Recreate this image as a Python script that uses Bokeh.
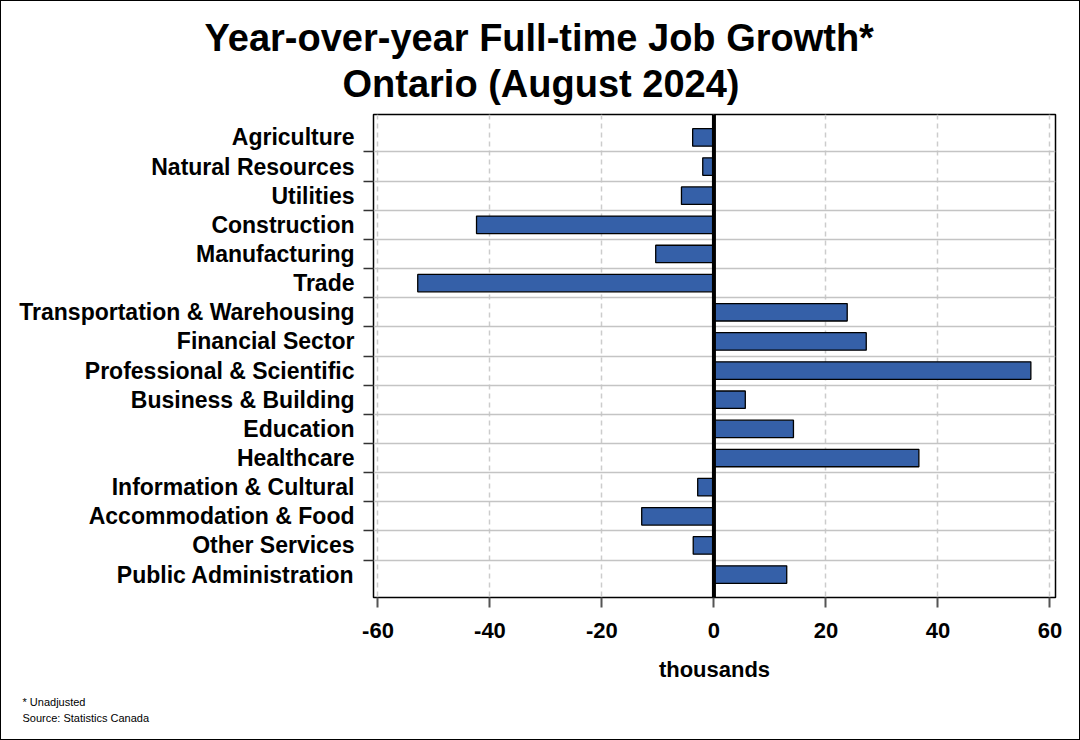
from bokeh.plotting import figure
from bokeh.models import FixedTicker, Span, Title, Range1d
from bokeh.embed import file_html
from bokeh.resources import INLINE

categories = ["Agriculture", "Natural Resources", "Utilities", "Construction",
              "Manufacturing", "Trade", "Transportation & Warehousing",
              "Financial Sector", "Professional & Scientific", "Business & Building",
              "Education", "Healthcare", "Information & Cultural",
              "Accommodation & Food", "Other Services", "Public Administration"]
values = [-3.8, -2.0, -5.8, -42.4, -10.4, -52.9, 23.8, 27.2, 56.6, 5.6,
          14.2, 36.6, -2.9, -12.9, -3.7, 13.0]
x_ticks = [-60, -40, -20, 0, 20, 40, 60]
x_tick_labels = ["-60", "-40", "-20", "0", "20", "40", "60"]

title_line1 = "Year-over-year Full-time Job Growth*"
title_line2 = "Ontario (August 2024)"
x_label = "thousands"
note1 = "* Unadjusted"
note2 = "Source: Statistics Canada"

FONT = "Liberation Sans"
n = len(categories)
idx = list(range(n))

p = figure(output_backend="svg", toolbar_location=None, title=None,
           frame_width=682, frame_height=483,
           min_border_left=372, min_border_top=113,
           min_border_right=24, min_border_bottom=142,
           x_range=Range1d(-60.8, 61.0),
           y_range=Range1d(n - 1 + 0.785, -0.785))
p.styles = {"border": "1px solid black"}
p.outline_line_color = "black"
p.outline_line_width = 1.5
p.background_fill_color = "white"
p.border_fill_color = "white"

# grids
p.xgrid.ticker = FixedTicker(ticks=x_ticks)
p.xgrid.grid_line_color = "#cccccc"
p.xgrid.grid_line_dash = "5 4"
p.xgrid.grid_line_width = 1.5
p.ygrid.ticker = FixedTicker(ticks=[i + 0.5 for i in range(n - 1)])
p.ygrid.grid_line_color = "#c4c4c4"
p.ygrid.grid_line_width = 1.5

p.hbar(y=idx, left=0, right=values, height=0.6,
       fill_color="#3560A8", line_color="black", line_width=1.3)

p.add_layout(Span(location=0, dimension="height", line_color="black", line_width=4))

# x axis
xa = p.xaxis[0]
xa.ticker = FixedTicker(ticks=x_ticks)
xa.major_label_overrides = {t: s for t, s in zip(x_ticks, x_tick_labels)}
xa.axis_line_color = None
xa.major_tick_out = 10
xa.major_tick_in = 0
xa.major_tick_line_color = "#555555"
xa.major_tick_line_width = 2
xa.minor_tick_line_color = None
xa.major_label_standoff = 15
xa.major_label_text_font = FONT
xa.major_label_text_font_style = "bold"
xa.major_label_text_font_size = "22px"
xa.major_label_text_color = "black"
xa.axis_label = x_label
xa.axis_label_standoff = 16
xa.axis_label_text_font = FONT
xa.axis_label_text_font_style = "bold"
xa.axis_label_text_font_size = "22px"
xa.axis_label_text_color = "black"

# y axis
ya = p.yaxis[0]
ya.ticker = FixedTicker(ticks=idx, minor_ticks=[i + 0.5 for i in range(n - 1)])
ya.major_label_overrides = {i: c for i, c in enumerate(categories)}
ya.axis_line_color = None
ya.major_tick_line_color = None
ya.major_tick_out = 10
ya.major_tick_in = 0
ya.minor_tick_out = 10
ya.minor_tick_in = 0
ya.minor_tick_line_color = "#333333"
ya.minor_tick_line_width = 1.5
ya.major_label_standoff = 9
ya.major_label_text_font = FONT
ya.major_label_text_font_style = "bold"
ya.major_label_text_font_size = "23px"
ya.major_label_text_color = "black"

# titles (above) - nearest to the frame first
p.add_layout(Title(text=title_line2, align="left", offset=-31,
                   text_font=FONT, text_font_style="bold", text_font_size="38px",
                   text_color="black", standoff=20), "above")
p.add_layout(Title(text=title_line1, align="left", offset=-169,
                   text_font=FONT, text_font_style="bold", text_font_size="38px",
                   text_color="black", standoff=-16), "above")

# notes (below)
p.add_layout(Title(text=note1, align="left", offset=-351,
                   text_font=FONT, text_font_style="normal", text_font_size="11px",
                   text_color="black", standoff=18), "below")
p.add_layout(Title(text=note2, align="left", offset=-351,
                   text_font=FONT, text_font_style="normal", text_font_size="11px",
                   text_color="black", standoff=-14), "below")

open("out.html", "w").write(file_html(p, INLINE))
